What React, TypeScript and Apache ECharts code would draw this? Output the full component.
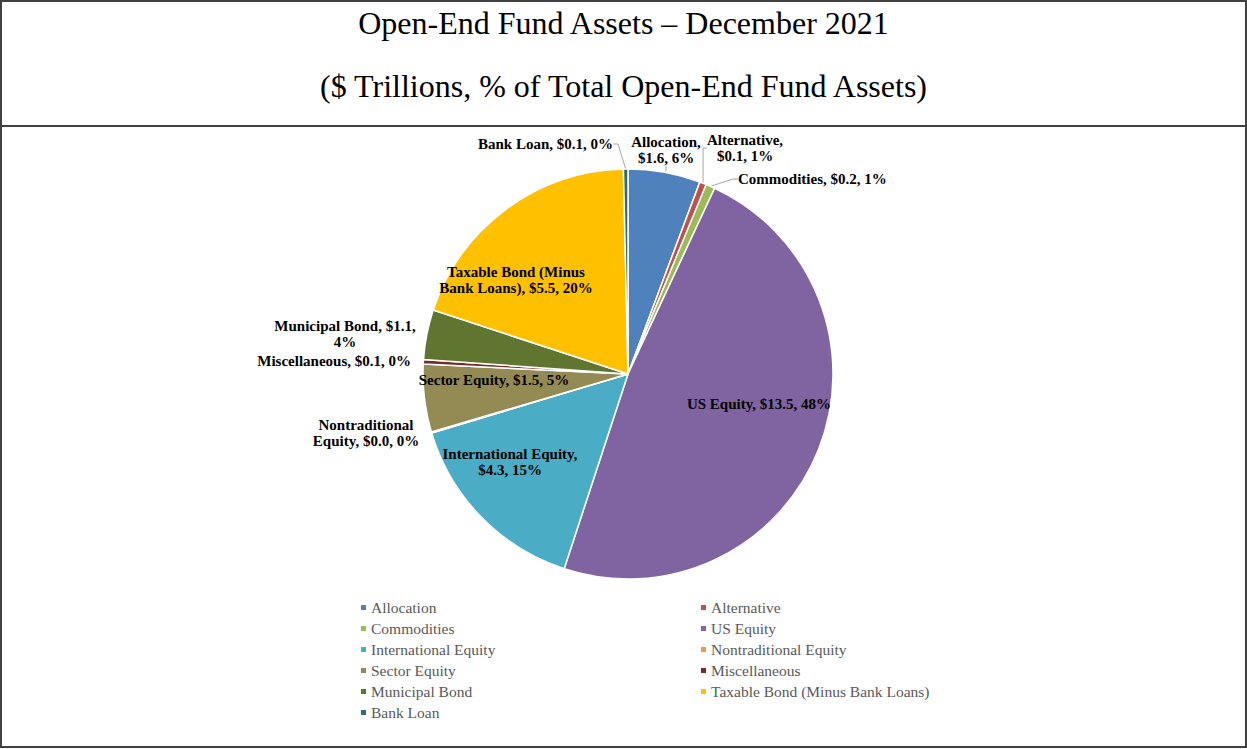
import React, { useEffect, useRef } from "react";
import * as echarts from "echarts";

const categories = [
  "Allocation",
  "Alternative",
  "Commodities",
  "US Equity",
  "International Equity",
  "Nontraditional Equity",
  "Sector Equity",
  "Miscellaneous",
  "Municipal Bond",
  "Taxable Bond (Minus Bank Loans)",
  "Bank Loan",
];
// $ Trillions
const assets = [1.6, 0.15, 0.2, 13.5, 4.3, 0.02, 1.5, 0.1, 1.1, 5.5, 0.1];
const colors = [
  "#4F81BD",
  "#C0504D",
  "#9BBB59",
  "#8064A2",
  "#4BACC6",
  "#F79646",
  "#948A54",
  "#772C2A",
  "#5F7530",
  "#FFC000",
  "#2C6D7E",
];
// label display names and the word after which the label wraps
const labelNames = [
  "Allocation",
  "Alternative",
  "Commodities",
  "US Equity",
  "International Equity",
  "Nontraditional Equity",
  "Sector Equity",
  "Miscellaneous",
  "Municipal Bond",
  "Taxable Bond (Minus Bank Loans)",
  "Bank Loan",
];
const wrapAfter = [
  "Allocation,",
  "Alternative,",
  "",
  "",
  "Equity,",
  "Nontraditional",
  "",
  "",
  "$1.1,",
  "(Minus",
  "",
];
const showLeader = [true, true, true, false, false, false, false, false, false, false, true];
// label anchor positions (layout)
const labelPos: [number, number, string][] = [
  [666, 150, "center"],
  [745, 148, "center"],
  [738, 179, "left"],
  [759, 404, "center"],
  [510, 462, "center"],
  [366, 433, "center"],
  [494, 380, "center"],
  [411, 361, "right"],
  [345, 334, "center"],
  [516, 280, "center"],
  [613, 144, "right"],
];

const FONT = '"Liberation Serif", "Times New Roman", serif';

export default function App() {
  const ref = useRef<HTMLDivElement>(null);
  useEffect(() => {
    document.body.style.margin = "0";
    const chart = echarts.init(ref.current!, null, { renderer: "svg" });
    const total = assets.reduce((a, b) => a + b, 0);
    const data = categories.map((c, i) => ({
      name: c,
      value: assets[i],
      itemStyle: { color: colors[i] },
      labelLine: {
        show: showLeader[i],
        lineStyle: { color: "#A6A6A6", width: 1 },
      },
    }));
    chart.setOption({
      animation: false,
      graphic: [
        {
          type: "rect",
          shape: { x: 1, y: 1, width: 1245, height: 746 },
          style: { fill: "none", stroke: "#404040", lineWidth: 2 },
          silent: true,
        },
        {
          type: "line",
          shape: { x1: 0, y1: 126, x2: 1247, y2: 126 },
          style: { stroke: "#404040", lineWidth: 2 },
          silent: true,
        },
      ],
      title: [
        {
          text: "Open-End Fund Assets \u2013 December 2021",
          left: "center",
          top: 2,
          textStyle: { fontFamily: FONT, fontSize: 32, fontWeight: "normal", color: "#000" },
        },
        {
          text: "($ Trillions, % of Total Open-End Fund Assets)",
          left: "center",
          top: 65,
          textStyle: { fontFamily: FONT, fontSize: 32, fontWeight: "normal", color: "#000" },
        },
      ],
      legend: {
        data: categories,
        left: 359,
        top: 597,
        width: 720,
        orient: "horizontal",
        padding: 0,
        itemGap: 0,
        itemWidth: 7,
        itemHeight: 7,
        icon: "rect",
        selectedMode: false,
        textStyle: {
          fontFamily: FONT,
          fontSize: 15.5,
          color: "#595959",
          width: 328,
          lineHeight: 21,
          padding: [0, 0, 0, -1],
        },
      },
      series: [
        {
          type: "pie",
          center: [628, 374],
          radius: 205,
          startAngle: 90,
          clockwise: true,
          avoidLabelOverlap: false,
          itemStyle: { borderColor: "#fff", borderWidth: 1.5 },
          label: {
            show: true,
            position: "outside",
            fontFamily: FONT,
            fontWeight: "bold",
            fontSize: 15,
            color: "#000",
            lineHeight: 16,
            formatter: (p: any) => {
              const i = p.dataIndex;
              const pct = Math.round((assets[i] / total) * 100);
              let s = `${labelNames[i]}, $${assets[i].toFixed(1)}, ${pct}%`;
              const w = wrapAfter[i];
              if (w) {
                const k = s.indexOf(w) + w.length;
                s = s.slice(0, k) + "\n" + s.slice(k + 1);
              }
              return s;
            },
          },
          labelLine: { show: false, length: 5, length2: 5 },
          labelLayout: (p: any) => {
            const [x, y, align] = labelPos[p.dataIndex];
            return { x, y, align, verticalAlign: "middle", hideOverlap: false };
          },
          data,
        },
      ],
    });
    return () => chart.dispose();
  }, []);
  return <div ref={ref} style={{ width: 1247, height: 749 }} />;
}
